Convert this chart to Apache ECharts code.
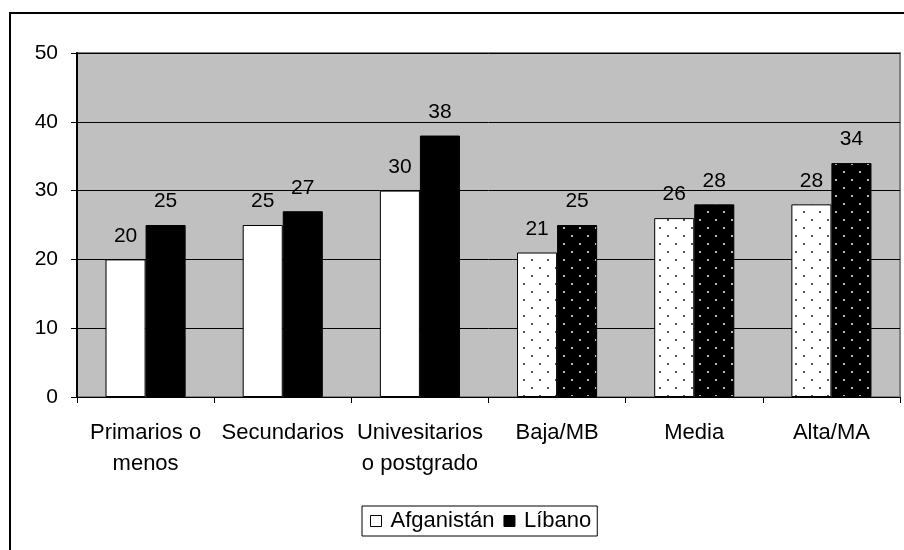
<!DOCTYPE html>
<html>
<head>
<meta charset="utf-8">
<script src="https://cdn.jsdelivr.net/npm/echarts@6/dist/echarts.min.js"></script>
<style>html,body{margin:0;padding:0;background:#fff}#c{width:904px;height:550px}</style>
</head>
<body>
<div id="c"></div>
<script>
var categories = ['Primarios o\nmenos', 'Secundarios', 'Univesitarios\no postgrado', 'Baja/MB', 'Media', 'Alta/MA'];
var afganistan = [20, 25, 30, 21, 26, 28];
var libano = [25, 27, 38, 25, 28, 34];
var dotted = [false, false, false, true, true, true];
var yTicks = [0, 10, 20, 30, 40, 50];

function makePattern(bg, dot) {
  var c = document.createElement('canvas');
  c.width = 16; c.height = 16;
  var g = c.getContext('2d');
  g.fillStyle = bg; g.fillRect(0, 0, 16, 16);
  g.fillStyle = dot;
  g.fillRect(3, 3, 2, 2);
  g.fillRect(11, 11, 2, 2);
  return c;
}
var whiteDots = {image: makePattern('#ffffff', '#555555'), repeat: 'repeat'};
var blackDots = {image: makePattern('#000000', '#bbbbbb'), repeat: 'repeat'};

function build(values, pat) {
  return values.map(function (v, i) {
    var item = {value: v};
    if (dotted[i]) item.itemStyle = {color: pat};
    return item;
  });
}

var font = 'Liberation Sans, Arial, sans-serif';
var chart = echarts.init(document.getElementById('c'), null, {renderer: 'canvas'});
chart.setOption({
  animation: false,
  textStyle: {fontFamily: font},
  graphic: [{
    type: 'rect', silent: true, z: -10,
    shape: {x: 10, y: 13, width: 1000, height: 1000},
    style: {fill: 'none', stroke: '#000', lineWidth: 2}
  }],
  grid: {
    left: 77, right: 4, top: 53, bottom: 153,
    show: true, backgroundColor: '#c0c0c0', borderColor: '#808080', borderWidth: 2,
    containLabel: false
  },
  legend: {
    bottom: 14, left: 362,
    data: ['Afganistán', 'Líbano'],
    itemWidth: 11, itemHeight: 11, itemGap: 9,
    icon: 'rect',
    borderColor: '#000', borderWidth: 1, padding: [4, 6, 4, 8],
    textStyle: {fontSize: 22, color: '#000', fontFamily: font, padding: [0, 0, 0, 4]},
    itemStyle: {borderColor: '#000', borderWidth: 1}
  },
  xAxis: {
    type: 'category', data: categories,
    axisLine: {lineStyle: {color: '#000', width: 1}},
    axisTick: {show: true, length: 6, lineStyle: {color: '#000'}},
    axisLabel: {color: '#000', fontSize: 22, lineHeight: 31, margin: 20, interval: 0, fontFamily: font}
  },
  yAxis: {
    type: 'value', min: 0, max: 50, interval: 10,
    axisLine: {show: true, lineStyle: {color: '#000', width: 2}},
    axisTick: {show: true, length: 6, lineStyle: {color: '#000'}},
    axisLabel: {color: '#000', fontSize: 21, margin: 19, fontFamily: font,
      formatter: function (v) { return yTicks.indexOf(v) >= 0 ? String(v) : ''; }},
    splitLine: {show: true, lineStyle: {color: '#000', width: 1}}
  },
  series: [{
    name: 'Afganistán', type: 'bar', data: build(afganistan, whiteDots),
    barGap: '0%', barCategoryGap: '41.6%',
    itemStyle: {color: '#ffffff', borderColor: '#000', borderWidth: 1},
    label: {show: true, position: 'top', distance: 13, color: '#000', fontSize: 21, fontFamily: font}
  }, {
    name: 'Líbano', type: 'bar', data: build(libano, blackDots),
    itemStyle: {color: '#000000', borderColor: '#000', borderWidth: 1},
    label: {show: true, position: 'top', distance: 13, color: '#000', fontSize: 21, fontFamily: font}
  }]
});
</script>
</body>
</html>
